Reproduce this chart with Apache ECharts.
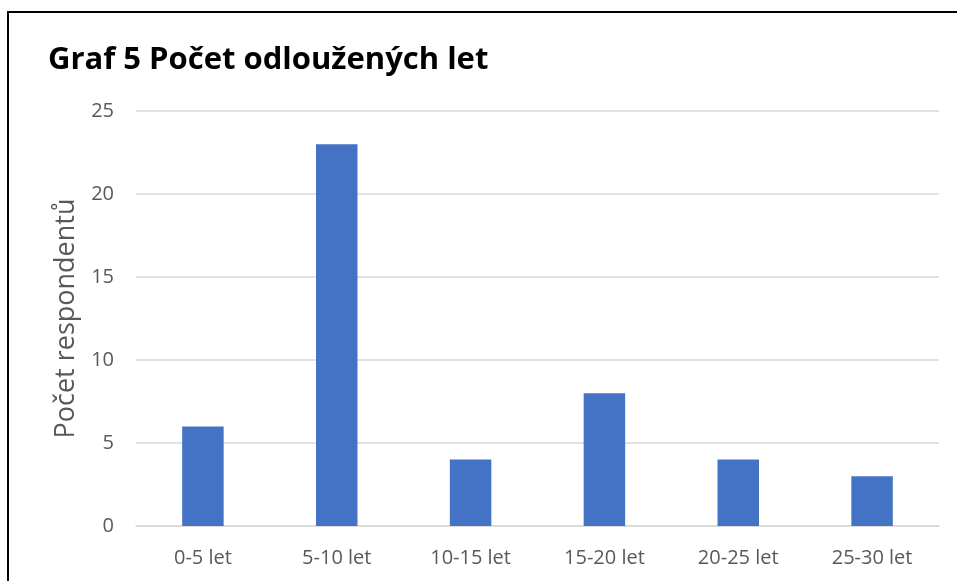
<!DOCTYPE html>
<html><head><meta charset="utf-8">
<script src="https://cdn.jsdelivr.net/npm/echarts@6/dist/echarts.min.js"></script>
<style>html,body{margin:0;padding:0;background:#fff}#c{width:957px;height:581px}</style>
</head><body><div id="c"></div>
<script>
const categories = ['0-5 let','5-10 let','10-15 let','15-20 let','20-25 let','25-30 let'];
const values = [6, 23, 4, 8, 4, 3];
const yTicks = {min: 0, max: 25, interval: 5};
const titleText = 'Graf 5 Počet odloužených let';
const yAxisName = 'Počet respondentů';

const chart = echarts.init(document.getElementById('c'));
const font = '"Open Sans", "Liberation Sans", sans-serif';
chart.setOption({
  animation: false,
  graphic: [{
    type: 'rect', shape: {x: 8, y: 12, width: 1000, height: 700},
    style: {fill: 'none', stroke: '#000', lineWidth: 2}, silent: true
  }],
  title: {
    text: titleText, left: 43, top: 40,
    textStyle: {fontFamily: font, fontWeight: 'bold', fontSize: 31, color: '#000'}
  },
  grid: {left: 136, right: 18, top: 111, bottom: 55},
  xAxis: {
    type: 'category', data: categories,
    axisLine: {lineStyle: {color: '#d9d9d9', width: 1.5}},
    axisTick: {show: false},
    axisLabel: {fontFamily: font, fontSize: 20, color: '#595959', margin: 22}
  },
  yAxis: {
    type: 'value', min: yTicks.min, max: yTicks.max, interval: yTicks.interval,
    name: yAxisName, nameLocation: 'middle', nameGap: 56,
    nameTextStyle: {fontFamily: font, fontSize: 27, color: '#595959'},
    axisLine: {show: false}, axisTick: {show: false},
    splitLine: {lineStyle: {color: '#d9d9d9', width: 1.5}},
    axisLabel: {fontFamily: font, fontSize: 20, color: '#595959', margin: 22}
  },
  series: [{
    type: 'bar', data: values, barWidth: '31%',
    itemStyle: {color: '#4472C4'}
  }]
});
</script></body></html>
